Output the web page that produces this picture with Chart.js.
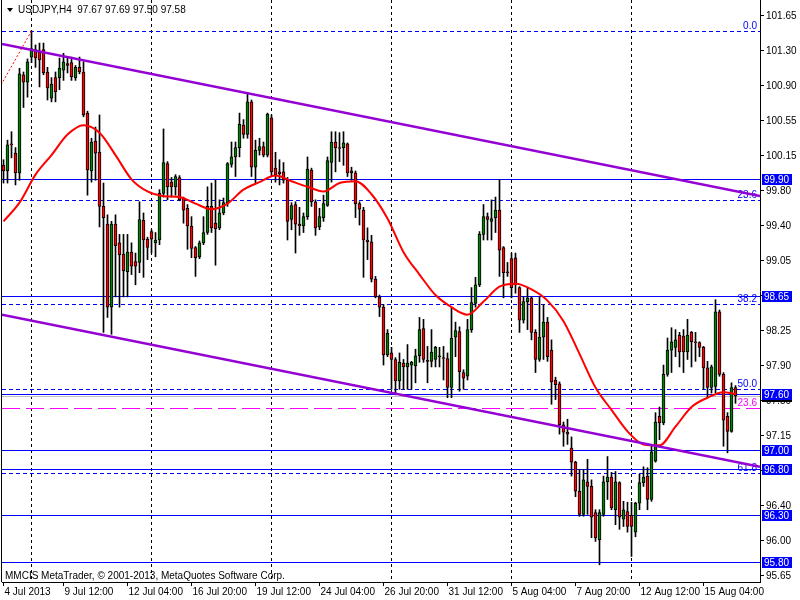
<!DOCTYPE html>
<html>
<head>
<meta charset="utf-8">
<script src="https://cdn.jsdelivr.net/npm/chart.js@4.4.0/dist/chart.umd.min.js"></script>
<style>
  html, body { margin: 0; padding: 0; background: #fff; }
  #wrap { width: 800px; height: 600px; }
</style>
</head>
<body>
<div id="wrap"><canvas id="chart" width="800" height="600"></canvas></div>
<script>
// USDJPY H4 - MetaTrader style candles with MA, channel and fibo levels
const symbolTitle = 'USDJPY,H4  97.67 97.69 97.50 97.58';
const copyright = 'MMCIS MetaTrader, \u00a9 2001-2013, MetaQuotes Software Corp.';

const opens = [
  100.05, 99.99, 100.28, 100.18, 99.97, 101.02, 100.94, 101.21, 101.29, 101.26,
  101.29, 101.05, 100.77, 100.99, 100.99, 101.07, 101.14, 101.15, 100.99, 101.10,
  101.05, 100.61, 99.99, 100.31, 100.19, 99.61, 99.42, 98.53, 99.42, 99.22,
  99.10, 98.91, 99.12, 99.02, 99.01, 99.46, 99.26, 99.34, 99.22, 99.25,
  99.75, 100.07, 99.87, 99.82, 99.92, 99.70, 99.59, 99.40, 99.17, 99.07,
  99.22, 99.33, 99.61, 99.43, 99.38, 99.54, 99.65, 100.06, 100.14, 100.24,
  100.48, 100.38, 100.73, 100.03, 100.21, 100.25, 100.16, 100.56, 100.02, 99.98,
  99.98, 99.89, 99.47, 99.63, 99.42, 99.40, 99.50, 100.00, 99.66, 99.39,
  99.49, 99.62, 100.08, 100.30, 100.24, 100.24, 100.28, 99.99, 99.97, 99.64,
  99.57, 99.25, 99.23, 98.83, 98.64, 98.53, 98.02, 98.04, 97.97, 97.74,
  97.93, 97.89, 97.91, 97.90, 98.01, 98.30, 97.96, 97.95, 97.97, 98.00,
  97.99, 97.98, 97.67, 98.21, 98.27, 97.83, 97.79, 98.29, 98.57, 98.77,
  99.31, 99.50, 99.45, 99.49, 99.57, 99.17, 98.91, 99.05, 99.06, 98.74,
  98.39, 98.59, 98.63, 98.26, 97.97, 98.21, 98.37, 98.07, 97.75, 97.71,
  97.27, 97.19, 97.02, 96.87, 96.56, 96.31, 96.66, 96.61, 96.33, 96.04,
  96.31, 96.66, 96.71, 96.36, 96.65, 96.26, 96.34, 96.30, 96.12, 96.43,
  96.65, 96.72, 96.47, 96.88, 97.36, 97.29, 97.81, 98.07, 98.10, 98.23,
  98.22, 98.05, 98.26, 98.16, 98.15, 98.10, 97.88, 97.67, 97.68, 98.48,
  97.81, 97.36, 97.20, 97.67
];
const highs = [
  100.11, 100.32, 100.41, 100.24, 101.09, 101.05, 101.19, 101.49, 101.34, 101.36,
  101.36, 101.10, 100.99, 101.05, 101.20, 101.25, 101.20, 101.21, 101.12, 101.21,
  101.16, 100.63, 100.34, 100.46, 100.59, 99.86, 99.52, 99.45, 99.52, 99.31,
  99.31, 99.31, 99.22, 99.11, 99.66, 99.54, 99.28, 99.36, 99.33, 99.79,
  100.44, 100.09, 99.92, 99.95, 99.94, 99.71, 99.63, 99.50, 99.18, 99.24,
  99.50, 99.82, 99.86, 99.89, 99.68, 99.70, 100.08, 100.30, 100.30, 100.61,
  100.54, 100.83, 100.75, 100.32, 100.34, 100.30, 100.61, 100.59, 100.19, 100.11,
  100.08, 99.92, 99.65, 99.66, 99.60, 99.54, 100.14, 100.02, 99.68, 99.59,
  99.73, 100.14, 100.41, 100.41, 100.40, 100.41, 100.29, 100.03, 99.99, 99.66,
  99.60, 99.38, 99.30, 98.86, 98.66, 98.56, 98.29, 98.10, 97.99, 98.04,
  97.97, 98.13, 97.95, 98.08, 98.42, 98.40, 98.11, 98.29, 98.11, 98.10,
  98.11, 98.04, 98.52, 98.37, 98.32, 97.86, 98.40, 98.74, 98.85, 99.34,
  99.63, 99.54, 99.68, 99.71, 99.90, 99.18, 99.01, 99.11, 99.11, 98.75,
  98.64, 98.74, 98.64, 98.29, 98.64, 98.56, 98.42, 98.18, 97.78, 97.73,
  97.30, 97.33, 97.14, 96.88, 96.79, 96.79, 96.90, 96.68, 96.36, 96.36,
  96.72, 96.93, 96.76, 96.77, 96.66, 96.45, 96.44, 96.44, 96.44, 96.74,
  96.82, 96.81, 97.06, 97.40, 97.46, 97.91, 98.20, 98.31, 98.29, 98.26,
  98.29, 98.40, 98.27, 98.26, 98.16, 98.11, 97.95, 97.91, 98.61, 98.50,
  97.83, 97.40, 97.72, 97.69
];
const lows = [
  99.86, 99.86, 100.13, 99.84, 99.89, 100.67, 100.78, 101.15, 101.10, 100.89,
  101.02, 100.75, 100.73, 100.73, 100.86, 100.96, 101.04, 100.96, 100.96, 101.03,
  100.57, 99.73, 99.87, 99.89, 99.39, 98.26, 98.42, 98.24, 98.64, 98.53,
  98.64, 98.64, 98.88, 98.77, 98.90, 98.85, 99.04, 99.11, 99.07, 99.20,
  99.71, 99.68, 99.71, 99.73, 99.67, 99.43, 99.15, 99.06, 98.86, 99.05,
  99.20, 99.31, 99.33, 98.98, 99.36, 99.52, 99.61, 100.03, 99.93, 100.14,
  100.34, 100.34, 99.93, 99.86, 100.16, 100.14, 100.14, 99.93, 99.87, 99.84,
  99.86, 99.25, 99.36, 99.11, 99.30, 99.33, 99.47, 99.61, 99.30, 99.36,
  99.45, 99.61, 99.87, 99.98, 100.09, 100.05, 99.93, 99.89, 99.49, 99.41,
  98.85, 99.04, 98.80, 98.63, 98.43, 97.91, 98.00, 97.65, 97.59, 97.65,
  97.65, 97.65, 97.65, 97.72, 97.94, 97.94, 97.72, 97.89, 97.89, 97.89,
  97.75, 97.56, 97.56, 98.00, 97.63, 97.65, 97.75, 98.26, 98.53, 98.75,
  99.25, 99.25, 99.25, 99.33, 98.86, 98.63, 98.86, 98.63, 98.68, 98.26,
  98.36, 98.29, 98.18, 97.83, 97.95, 97.97, 97.95, 97.49, 97.54, 97.17,
  97.04, 97.06, 96.72, 96.50, 96.29, 96.29, 96.31, 96.06, 96.02, 95.77,
  96.29, 96.47, 96.36, 96.20, 96.15, 96.18, 96.12, 95.86, 96.07, 96.36,
  96.61, 96.36, 96.45, 96.87, 97.11, 97.27, 97.79, 97.83, 98.00, 97.89,
  97.83, 97.97, 97.89, 97.95, 98.00, 97.65, 97.57, 97.61, 97.61, 97.79,
  97.04, 96.97, 97.19, 97.50
];
const closes = [
  99.99, 100.27, 100.27, 99.97, 101.03, 100.94, 101.16, 101.30, 101.20, 101.18,
  101.04, 100.88, 100.92, 100.84, 101.09, 101.16, 101.12, 101.00, 101.10, 101.05,
  100.59, 100.00, 100.30, 100.18, 99.61, 99.49, 98.53, 99.42, 99.19, 99.09,
  98.92, 99.12, 98.97, 98.97, 99.47, 99.25, 99.17, 99.26, 99.25, 99.75,
  100.08, 99.82, 99.82, 99.93, 99.68, 99.57, 99.40, 99.16, 99.06, 99.22,
  99.33, 99.61, 99.38, 99.37, 99.54, 99.65, 100.07, 100.14, 100.24, 100.49,
  100.38, 100.73, 100.03, 100.21, 100.25, 100.16, 100.60, 99.98, 99.95, 99.96,
  99.89, 99.45, 99.62, 99.42, 99.40, 99.50, 100.01, 99.66, 99.38, 99.50,
  99.64, 100.10, 100.30, 100.24, 100.23, 100.29, 99.97, 99.97, 99.64, 99.58,
  99.25, 99.23, 98.83, 98.64, 98.53, 98.02, 98.25, 97.97, 97.74, 97.94,
  97.89, 97.93, 97.94, 98.01, 98.29, 97.97, 97.95, 98.05, 98.10, 98.01,
  97.98, 97.67, 98.20, 98.28, 97.84, 97.77, 98.29, 98.58, 98.77, 99.31,
  99.50, 99.47, 99.48, 99.57, 99.14, 98.90, 98.90, 98.74, 98.77, 98.39,
  98.59, 98.63, 98.26, 97.97, 98.21, 98.37, 98.00, 97.73, 97.70, 97.27,
  97.19, 97.17, 96.87, 96.56, 96.31, 96.68, 96.61, 96.28, 96.06, 96.33,
  96.66, 96.71, 96.38, 96.66, 96.28, 96.36, 96.18, 96.18, 96.43, 96.65,
  96.71, 96.47, 96.98, 97.30, 97.29, 97.81, 98.07, 98.16, 98.18, 98.05,
  98.05, 98.23, 98.16, 98.15, 98.10, 97.88, 97.67, 97.89, 98.48, 97.81,
  97.32, 97.20, 97.67, 97.58
];

// moving average read every 4th bar
const maBars = [0, 4, 8, 12, 16, 20, 24, 28, 32, 36, 40, 44, 48, 52, 56, 60, 64, 68, 72, 76,
  80, 84, 88, 92, 96, 100, 104, 108, 112, 116, 120, 124, 128, 132, 136, 140, 144, 148, 152, 156,
  160, 164, 168, 172, 176, 180, 183];
const maValues = [99.45, 99.65, 99.95, 100.16, 100.38, 100.48, 100.40, 100.16, 99.90, 99.77,
  99.72, 99.71, 99.64, 99.58, 99.64, 99.79, 99.87, 99.94, 99.88, 99.82,
  99.77, 99.86, 99.88, 99.74, 99.48, 99.12, 98.88, 98.66, 98.53, 98.45,
  98.59, 98.75, 98.78, 98.72, 98.60, 98.38, 98.03, 97.67, 97.43, 97.20,
  97.06, 97.05, 97.25, 97.46, 97.56, 97.62, 97.60];

const timeLabels = ['4 Jul 2013', '9 Jul 12:00', '12 Jul 04:00', '16 Jul 20:00', '19 Jul 12:00',
  '24 Jul 04:00', '26 Jul 20:00', '31 Jul 12:00', '5 Aug 04:00', '7 Aug 20:00', '12 Aug 12:00', '15 Aug 04:00'];
const timeLabelBars = [0, 15, 31, 47, 63, 79, 95, 111, 127, 143, 159, 175];
const separatorBars = [7, 37, 67, 97, 127, 157];

const yTickLabels = ['101.65', '101.30', '100.90', '100.55', '100.15', '99.80', '99.40', '99.05',
  '98.65', '98.25', '97.90', '97.50', '97.15', '96.75', '96.40', '96.00', '95.65'];
const yTickTop = 101.65, yTickStep = 0.375;
const yMin = 95.5857, yMax = 101.8214;

const levelLines = [99.90, 98.65, 97.60, 97.00, 96.80, 96.30, 95.80];
const bidPrice = 97.58;
const fiboHigh = 101.49, fiboLow = 93.82;
const fiboRatios = [0, 23.6, 38.2, 50.0, 61.8];
const fibo2Price = 97.45, fibo2Ratio = '23.6';
const upperChannel = [{ x: -0.375, y: 101.35 }, { x: 189.125, y: 99.72 }];
const lowerChannel = [{ x: -0.375, y: 98.45 }, { x: 189.125, y: 96.82 }];
const fiboTrend = [{ x: -94, y: 93.82 }, { x: 7, y: 101.49 }];

const FONT = '"Liberation Sans", Arial, sans-serif';
const BLUE = '#0000FF', VIOLET = '#9400D3', RED = '#FF0000', MAGENTA = '#FF00FF';
const UP = '#008000', DOWN = '#FF0000';

const bars = opens.map((_, i) => i);

function seg(ctx, x0, y0, x1, y1) {
  ctx.beginPath(); ctx.moveTo(x0, y0); ctx.lineTo(x1, y1); ctx.stroke();
}
const snap = v => Math.round(v) + 0.5;

const mtObjects = {
  id: 'mtObjects',
  beforeDatasetsDraw(chart) {
    const { ctx, chartArea: a, scales: { x, y } } = chart;
    ctx.save();
    ctx.beginPath(); ctx.rect(a.left, a.top, a.right - a.left, a.bottom - a.top); ctx.clip();
    ctx.lineWidth = 1;

    ctx.strokeStyle = '#000'; ctx.setLineDash([3, 3]);
    separatorBars.forEach(b => { const px = Math.floor(x.getPixelForValue(b)) + 0.5; seg(ctx, px, a.top, px, a.bottom); });

    ctx.setLineDash([]);
    ctx.strokeStyle = '#C0C0C0';
    let py = snap(y.getPixelForValue(bidPrice)); seg(ctx, a.left, py, a.right, py);
    ctx.strokeStyle = BLUE;
    levelLines.forEach(v => { const p = snap(y.getPixelForValue(v)); seg(ctx, a.left, p, a.right, p); });

    ctx.font = '10px ' + FONT; ctx.textAlign = 'right'; ctx.textBaseline = 'bottom';
    fiboRatios.forEach(r => {
      const p = snap(y.getPixelForValue(fiboHigh - (fiboHigh - fiboLow) * r / 100));
      ctx.setLineDash([4, 3]); ctx.strokeStyle = BLUE; seg(ctx, a.left, p, a.right, p);
      ctx.fillStyle = BLUE; ctx.fillText(r.toFixed(1), a.right - 3, p);
    });
    py = snap(y.getPixelForValue(fibo2Price));
    ctx.setLineDash([18, 6]); ctx.strokeStyle = MAGENTA; seg(ctx, a.left, py, a.right, py);
    ctx.fillStyle = MAGENTA; ctx.fillText(fibo2Ratio, a.right - 3, py);
    ctx.restore();
  },
  afterDraw(chart) {
    const { ctx, chartArea: a, scales: { y } } = chart;
    ctx.save();
    ctx.strokeStyle = '#000'; ctx.lineWidth = 1;
    seg(ctx, a.left - 0.5, 0, a.left - 0.5, a.bottom);

    ctx.fillStyle = '#000';
    ctx.beginPath(); ctx.moveTo(7, 8); ctx.lineTo(13, 8); ctx.lineTo(10, 12); ctx.closePath(); ctx.fill();
    ctx.font = '10px ' + FONT; ctx.textAlign = 'left'; ctx.textBaseline = 'middle';
    ctx.fillText(symbolTitle, 18, 10.5);
    ctx.fillText(copyright, 5, 576);

    const bx = a.right + 2;
    let p = Math.round(y.getPixelForValue(bidPrice));
    ctx.fillStyle = '#000'; ctx.fillRect(bx, p - 5, 30, 11);
    levelLines.forEach(v => {
      p = Math.round(y.getPixelForValue(v));
      ctx.fillStyle = BLUE; ctx.fillRect(bx, p - 5, 30, 11);
      ctx.fillStyle = '#fff'; ctx.fillText(v.toFixed(2), bx + 2, p + 1);
    });
    ctx.restore();
  }
};

const lineDs = (data, color, width, extra) => Object.assign({
  type: 'line', data, borderColor: color, borderWidth: width, pointRadius: 0, fill: false
}, extra);

new Chart(document.getElementById('chart'), {
  type: 'bar',
  data: {
    datasets: [
      lineDs(maBars.map((b, k) => ({ x: b, y: maValues[k] })), RED, 2, { cubicInterpolationMode: 'monotone', order: 2 }),
      lineDs(upperChannel, VIOLET, 2.5, { order: 1 }),
      lineDs(lowerChannel, VIOLET, 2.5, { order: 1 }),
      lineDs(fiboTrend, RED, 1, { borderDash: [2, 2], order: 1 }),
      {
        type: 'bar', data: bars.map(i => ({ x: i, y: [lows[i], highs[i]] })),
        backgroundColor: '#000', barThickness: 1, grouped: false, order: 4
      },
      {
        type: 'bar', data: bars.map(i => ({ x: i, y: [opens[i], closes[i]] })),
        backgroundColor: bars.map(i => closes[i] >= opens[i] ? UP : DOWN),
        borderColor: '#000', borderWidth: 1, borderSkipped: false,
        barThickness: 3, grouped: false, order: 3
      }
    ]
  },
  options: {
    responsive: false,
    devicePixelRatio: 1,
    animation: false,
    layout: { padding: { left: 2, top: 0, right: 0, bottom: 0 } },
    plugins: { legend: { display: false }, tooltip: { enabled: false } },
    scales: {
      x: {
        type: 'linear', min: -0.375, max: 189.125, offset: false,
        grid: { drawOnChartArea: false, tickLength: 4, color: '#000', offset: false },
        border: { display: true, color: '#000' },
        afterBuildTicks: s => { s.ticks = timeLabelBars.map(v => ({ value: v })); },
        afterFit: s => { s.height = 18; s.paddingLeft = 0; s.paddingRight = 0; },
        ticks: {
          autoSkip: false, maxRotation: 0, minRotation: 0, align: 'start',
          padding: 0, labelOffset: 1, color: '#000', font: { family: FONT, size: 10 },
          callback: (v, i) => timeLabels[i]
        }
      },
      y: {
        type: 'linear', position: 'right', min: yMin, max: yMax, beginAtZero: false,
        grid: { drawOnChartArea: false, tickLength: 4, color: '#000' },
        border: { display: true, color: '#000' },
        afterBuildTicks: s => { s.ticks = yTickLabels.map((_, k) => ({ value: yTickTop - k * yTickStep })); },
        afterFit: s => { s.width = 40; s.paddingTop = 0; s.paddingBottom = 0; },
        ticks: { padding: 2, color: '#000', font: { family: FONT, size: 10 }, callback: (v, i) => yTickLabels[i] }
      }
    }
  },
  plugins: [mtObjects]
});
</script>
</body>
</html>
